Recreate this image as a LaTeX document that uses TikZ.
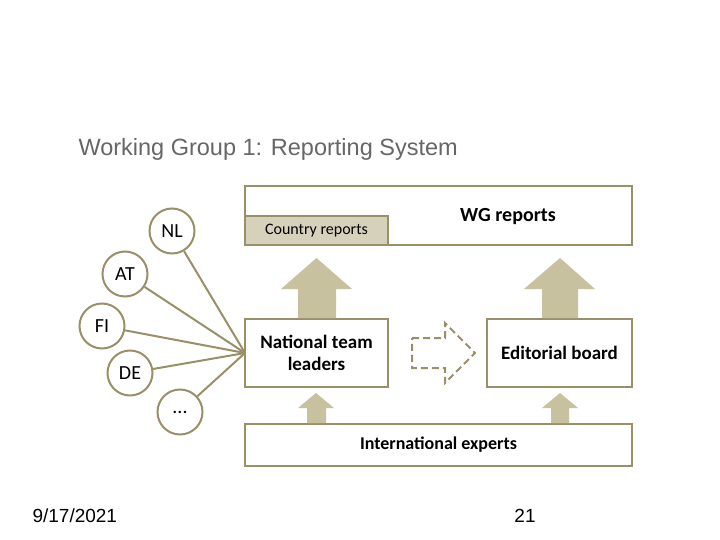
\documentclass[tikz,border=0pt]{standalone}
\usepackage{fontspec}
\setmainfont{Carlito}
\newfontfamily\arialfont{Liberation Sans}
\definecolor{olivel}{HTML}{9A9068}
\definecolor{arrowfill}{HTML}{C8C1A0}
\definecolor{crfill}{HTML}{D6D1BB}
\definecolor{titlegray}{HTML}{666666}
\begin{document}
\begin{tikzpicture}[x=1pt,y=-1pt,
  boxx/.style={draw=olivel,line width=2.2pt,rectangle,anchor=north west,inner sep=0pt,outer sep=0pt,fill=white},
  circ/.style={draw=olivel,line width=2pt,circle,minimum size=45pt,inner sep=0pt,fill=white,font=\fontsize{20}{22}\selectfont},
  lbl/.style={font=\bfseries\fontsize{19}{22}\selectfont,align=center},
  link/.style={draw=olivel,line width=2pt},
  bigarrow/.style={fill=arrowfill,draw=none}]
\useasboundingbox (0,0) rectangle (720,540);
\fill[white] (0,0) rectangle (720,540);
% title
\node[font=\arialfont\fontsize{23.5}{26}\selectfont,text=titlegray,anchor=west] (title) at (75,149) {Working Group 1: Reporting System};
% boxes
\node[boxx,minimum width=387pt,minimum height=59pt] (wg) at (245,186) {};
\node[boxx,fill=crfill,minimum width=143pt,minimum height=29pt] (cr) at (245,216) {};
\node[font=\fontsize{16}{18}\selectfont] (crt) at (cr.center) {Country reports};
\node[lbl,font=\bfseries\fontsize{20}{22}\selectfont] (wgt) at (508,217) {WG reports};
\node[boxx,minimum width=143pt,minimum height=68pt] (ntl) at (245,319) {};
\node[lbl] (ntlt) at (ntl.center) {National team\\leaders};
\node[boxx,minimum width=145pt,minimum height=68pt] (eb) at (487,319) {};
\node[lbl] (ebt) at (eb.center) {Editorial board};
\node[boxx,minimum width=387pt,minimum height=42pt] (ie) at (245,424) {};
\node[lbl,font=\bfseries\fontsize{18}{22}\selectfont] (iet) at (ie.center) {International experts};
% big arrows
\fill[bigarrow] (316.5,258) -- (352,289) -- (336,289) -- (336,318) -- (298,318) -- (298,289) -- (281,289) -- cycle;
\fill[bigarrow] (560,258) -- (595,289) -- (578,289) -- (578,318) -- (542,318) -- (542,289) -- (524,289) -- cycle;
% small arrows
\fill[bigarrow] (316,393) -- (334,408) -- (326,408) -- (326,423) -- (307,423) -- (307,408) -- (298,408) -- cycle;
\fill[bigarrow] (560,393) -- (578,408) -- (569,408) -- (569,423) -- (551,423) -- (551,408) -- (542,408) -- cycle;
% dashed arrow
\draw[olivel,line width=2pt,dash pattern=on 7pt off 4pt] (412,338) -- (445,338) -- (445,323) -- (475,353) -- (445,383) -- (445,368) -- (412,368) -- cycle;
% circles
\node[circ] (nl) at (172,231) {NL};
\node[circ] (at) at (125,274) {AT};
\node[circ] (fi) at (102,326) {FI};
\node[circ] (de) at (130,373) {DE};
\node[circ] (etc) at (180,412) {...};
\coordinate (hub) at (245,353);
\foreach \c in {nl,at,fi,de,etc} \draw[link] (\c) -- (hub);
% footer
\node[font=\arialfont\fontsize{19}{21}\selectfont,anchor=west] (date) at (29,516) {9/17/2021};
\node[font=\arialfont\fontsize{19}{21}\selectfont] (page) at (525,516) {21};
\end{tikzpicture}
\end{document}
